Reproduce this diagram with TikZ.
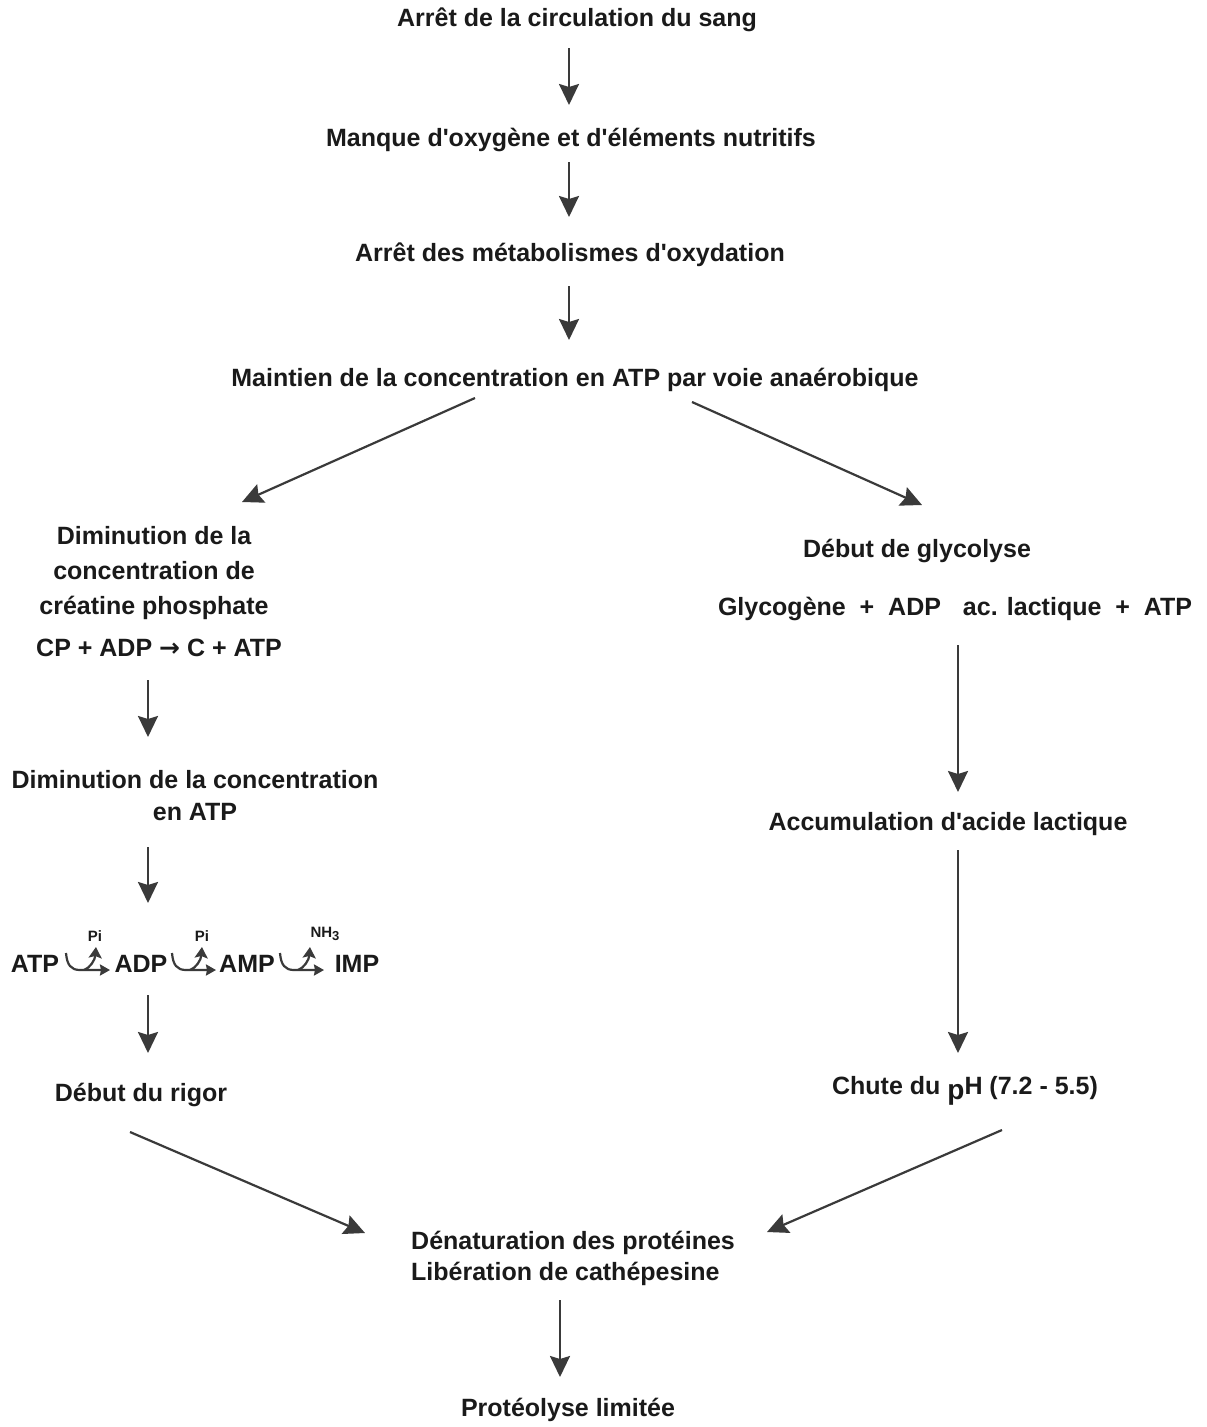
\documentclass[tikz,border=0pt]{standalone}
\usepackage{fontspec}
\setmainfont{Liberation Sans}
\newfontfamily\dvsans{DejaVu Sans}
\usetikzlibrary{arrows.meta}
\definecolor{ink}{HTML}{1A1A1A}
\definecolor{lc}{HTML}{3A3A3A}
\newcommand\ap{\textquotesingle}
\begin{document}
\begin{tikzpicture}[x=1pt,y=-1pt,
  txt/.style={inner sep=0pt, text height=18pt, text depth=5pt, text=ink, font=\bfseries\fontsize{25}{35}\selectfont},
  mtxt/.style={inner sep=0pt, text=ink, font=\bfseries\fontsize{25}{35}\selectfont},
  small/.style={inner sep=0pt, text=ink, font=\bfseries\fontsize{15}{18}\selectfont},
  arr/.style={draw=lc, line width=2.2pt, -{Stealth[length=21pt,width=20pt,inset=3pt,fill=lc]}},
  rxl/.style={draw=lc, line width=2.2pt},
  rx/.pic={
    \draw[rxl, -{Stealth[length=10pt,width=11pt,inset=1pt]}] (0,-17) .. controls (1,-5) and (5,0) .. (14,0) -- (44,0);
    \draw[rxl, -{Stealth[length=11pt,width=13pt,inset=2pt]}] (18,0) .. controls (24,-2) and (29,-10) .. (30,-23);
  }]
\fill[white] (0,0) rectangle (1207,1427);
\useasboundingbox (0,0) rectangle (1207,1427);

% main column
\node[txt] (t1) at (577,20) {Arrêt de la circulation du sang};
\node[txt] (t2) at (571,140) {Manque d\ap oxygène et d\ap éléments nutritifs};
\node[txt] (t3) at (570,255) {Arrêt des métabolismes d\ap oxydation};
\node[txt] (t4) at (575,380) {Maintien de la concentration en ATP par voie anaérobique};

% left branch
\node[mtxt, align=center] (l1) at (154,573) {Diminution de la\\concentration de\\créatine phosphate};
\node[txt] (cp) at (159,650) {CP + ADP {\dvsans\bfseries →} C + ATP};
\node[mtxt, align=center, font=\bfseries\fontsize{25}{32}\selectfont] (l2) at (195,796) {Diminution de la concentration\\en ATP};
\node[txt] (atp) at (35,966) {ATP};
\node[txt] (adp) at (141,966) {ADP};
\node[txt] (amp) at (247,966) {AMP};
\node[txt] (imp) at (357,966) {IMP};
\node[small] (pi1) at (95,936) {Pi};
\node[small] (pi2) at (202,936) {Pi};
\node[small] (nh3) at (325,934) {NH\raisebox{-3pt}{\fontsize{13}{13}\selectfont 3}};
\node[txt] (rigor) at (141,1095) {Début du rigor};

% right branch
\node[txt] (r1) at (917,551) {Début de glycolyse};
\node[txt] (glyc) at (955,609) {Glycogène\ \ +\ \ ADP\hspace{22pt}ac. lactique\ \ +\ \ ATP};
\node[txt] (acc) at (948,824) {Accumulation d\ap acide lactique};
\node[txt] (chute) at (965,1088) {Chute du \raisebox{-5pt}{\fontsize{28}{28}\selectfont p}H (7.2 - 5.5)};

% bottom
\node[mtxt, align=left, anchor=west, font=\bfseries\fontsize{25}{31}\selectfont] (den) at (411,1258) {Dénaturation des protéines\\Libération de cathépesine};
\node[txt] (prot) at (568,1410) {Protéolyse limitée};

% reaction hooks
\pic at ([shift={(31,4)}]atp.center) {rx};
\pic at ([shift={(31,4)}]adp.center) {rx};
\pic at ([shift={(33,4)}]amp.center) {rx};

% connectors
\draw[arr] ([shift={(-8,28)}]t1.center) -- ([shift={(-2,-35)}]t2.center);
\draw[arr] ([shift={(-2,22)}]t2.center) -- ([shift={(-1,-38)}]t3.center);
\draw[arr] ([shift={(-1,31)}]t3.center) -- ([shift={(-6,-40)}]t4.center);
\draw[arr] ([shift={(-100,18)}]t4.center) -- ([shift={(88,-71)}]l1.center);
\draw[arr] ([shift={(117,22)}]t4.center) -- ([shift={(5,-46)}]r1.center);
\draw[arr] ([shift={(-11,30)}]cp.center) -- ([shift={(-47,-59)}]l2.center);
\draw[arr] ([shift={(-47,51)}]l2.center) -- ([shift={(7,-63)}]adp.center);
\draw[arr] ([shift={(7,29)}]adp.center) -- ([shift={(7,-42)}]rigor.center);
\draw[arr] ([shift={(-11,37)}]rigor.center) -- ([shift={(-46,-25)}]den.west);
\draw[arr] ([shift={(3,36)}]glyc.center) -- ([shift={(10,-32)}]acc.center);
\draw[arr] ([shift={(10,26)}]acc.center) -- ([shift={(-7,-35)}]chute.center);
\draw[arr] ([shift={(37,42)}]chute.center) -- ([shift={(356,-26)}]den.west);
\draw[arr] ([shift={(149,42)}]den.west) -- ([shift={(-8,-33)}]prot.center);
\end{tikzpicture}
\end{document}
